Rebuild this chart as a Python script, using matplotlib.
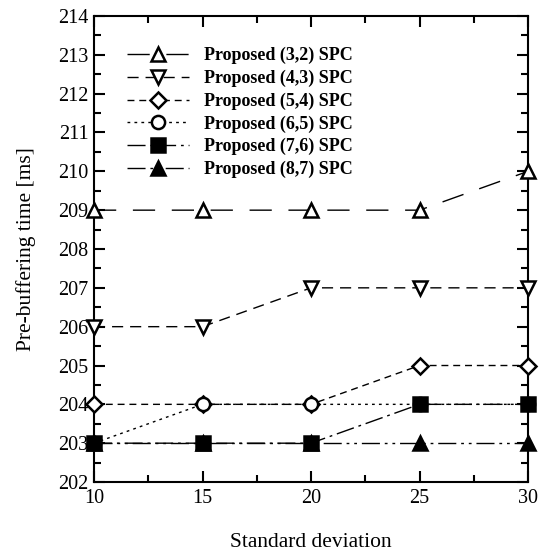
import matplotlib
matplotlib.use('Agg')
import matplotlib.pyplot as plt
from matplotlib.ticker import MultipleLocator

plt.rcParams['font.family'] = 'Liberation Serif'

std_dev = [10, 15, 20, 25, 30]

spc_32 = [209, 209, 209, 209, 210]
spc_43 = [206, 206, 207, 207, 207]
spc_54 = [204, 204, 204, 205, 205]
spc_65 = [203, 204, 204, 204, 204]
spc_76 = [203, 203, 203, 204, 204]
spc_87 = [203, 203, 203, 203, 203]

labels = ['Proposed (3,2) SPC', 'Proposed (4,3) SPC', 'Proposed (5,4) SPC',
          'Proposed (6,5) SPC', 'Proposed (7,6) SPC', 'Proposed (8,7) SPC']

fig = plt.figure(figsize=(5.39, 5.55), dpi=100)
ax = fig.add_axes([0.1744, 0.1315, 0.8052, 0.8397])

# (series, marker, filled, dash pattern)
styles = [
    (spc_32, '^', False, (0, (16, 12))),
    (spc_43, 'v', False, (0, (8, 5))),
    (spc_54, 'D', False, (0, (5, 3.5))),
    (spc_65, 'o', False, (0, (2, 3))),
    (spc_76, 's', True, (0, (13, 3.5, 2, 3.5))),
    (spc_87, '^', True, (0, (13, 3.5, 2, 3.5, 2, 3.5))),
]

for (vals, mk, filled, ls), lab in zip(styles, labels):
    ms = 8.5 if mk == 'D' else 9.5
    ax.plot(std_dev, vals, linestyle=ls, color='black', linewidth=1.0,
            marker=mk, markersize=ms, markeredgewidth=1.8,
            markerfacecolor='black' if filled else 'white',
            markeredgecolor='black', clip_on=False, zorder=3, label=lab)

ax.set_xlim(10, 30)
ax.set_ylim(202, 214)
ax.xaxis.set_major_locator(MultipleLocator(5))
ax.xaxis.set_minor_locator(MultipleLocator(2.5))
ax.yaxis.set_major_locator(MultipleLocator(1))
ax.yaxis.set_minor_locator(MultipleLocator(0.5))
ax.tick_params(which='both', direction='in', top=True, right=True,
               width=1.5, labelsize=14.5)
ax.tick_params(which='major', length=8)
ax.tick_params(which='minor', length=5)
ax.tick_params(axis='x', which='major', pad=5)
ax.tick_params(axis='y', which='major', pad=4)
for sp in ax.spines.values():
    sp.set_linewidth(1.5)

ax.set_xlabel('Standard deviation', fontsize=15.5, labelpad=18)
ax.set_ylabel('Pre-buffering time [ms]', fontsize=15.5, labelpad=16)

ax.legend(loc='upper left', bbox_to_anchor=(0.039, 0.968), frameon=False,
          prop={'weight': 'bold', 'size': 13}, handlelength=3.4,
          handletextpad=0.85, labelspacing=0.3)

fig.savefig('out.png', dpi=100)
